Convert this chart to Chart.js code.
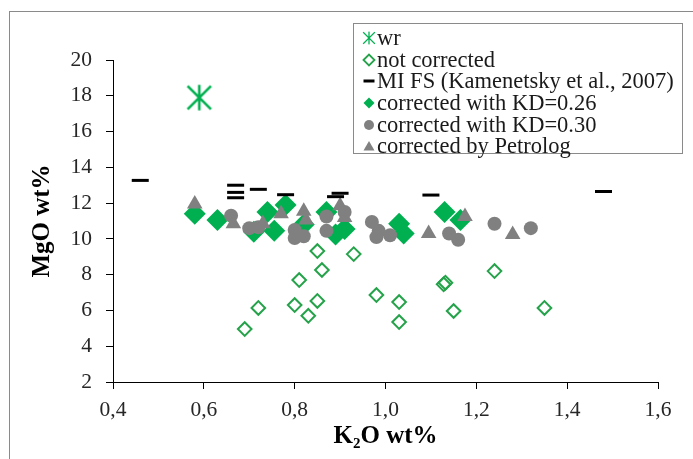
<!DOCTYPE html>
<html>
<head>
<meta charset="utf-8">
<script src="https://cdn.jsdelivr.net/npm/chart.js@4.4.1/dist/chart.umd.min.js"></script>
<style>
    html, body { margin: 0; padding: 0; background: #fff; overflow: hidden; }
    #wrap { position: relative; width: 693px; height: 459px; }
    #frame {
        position: absolute; left: 9px; top: 11px; width: 800px; height: 600px;
        border-left: 1px solid #8a8a8a; border-top: 1px solid #8a8a8a;
    }
    #chart { position: absolute; left: 0; top: 0; }
    #legend {
        position: absolute; left: 353px; top: 23px; width: 330px; height: 131px;
        border: 1px solid #8a8a8a; background: #fff;
        font-family: "Liberation Serif", "Times New Roman", serif; font-size: 22.5px; color: #1a1a1a;
        padding-top: 3px; box-sizing: border-box;
    }
    .row { height: 21.7px; line-height: 21.7px; white-space: nowrap; display: flex; align-items: center; }
    .row canvas { width: 16px; height: 16px; margin-left: 7px; margin-right: 0px; flex: none; }
</style>
</head>
<body>
<div id="wrap">
    <div id="frame"></div>
    <canvas id="chart" width="693" height="459"></canvas>
    <div id="legend"></div>
</div>
<script>
// --- Data ---
const xTicks = [0.4, 0.6, 0.8, 1.0, 1.2, 1.4, 1.6];
const xTickLabels = ['0,4', '0,6', '0,8', '1,0', '1,2', '1,4', '1,6'];
const yTicks = [2, 4, 6, 8, 10, 12, 14, 16, 18, 20];
const yTickLabels = ['2', '4', '6', '8', '10', '12', '14', '16', '18', '20'];

const wrK2O = [0.59];
const wrMgO = [17.9];

const notCorrK2O = [0.69, 0.72, 0.80, 0.81, 0.83, 0.85, 0.85, 0.86, 0.93, 0.98, 1.03, 1.03, 1.128, 1.132, 1.15, 1.24, 1.35];
const notCorrMgO = [4.96, 6.14, 6.30, 7.70, 5.70, 6.53, 9.32, 8.26, 9.15, 6.86, 5.35, 6.47, 7.46, 7.55, 5.97, 8.20, 6.14];

const miK2O = [0.46, 0.67, 0.67, 0.67, 0.72, 0.78, 0.89, 0.90, 1.10, 1.48];
const miMgO = [13.27, 13.0, 12.6, 12.3, 12.77, 12.47, 12.36, 12.55, 12.45, 12.65];

const kd26K2O = [0.58, 0.63, 0.71, 0.74, 0.755, 0.78, 0.82, 0.87, 0.89, 0.91, 1.03, 1.04, 1.13, 1.165];
const kd26MgO = [11.4, 11.05, 10.4, 11.5, 10.45, 11.9, 10.8, 11.5, 10.25, 10.55, 10.85, 10.3, 11.5, 11.05];

const kd30K2O = [0.66, 0.70, 0.72, 0.80, 0.80, 0.82, 0.87, 0.87, 0.91, 0.97, 0.98, 0.985, 1.01, 1.14, 1.16, 1.24, 1.32];
const kd30MgO = [11.3, 10.6, 10.65, 10.05, 10.5, 10.15, 11.25, 10.45, 11.5, 10.95, 10.1, 10.45, 10.2, 10.3, 9.95, 10.85, 10.6];

const petK2O = [0.58, 0.665, 0.73, 0.77, 0.82, 0.825, 0.90, 0.91, 1.095, 1.175, 1.28];
const petMgO = [11.95, 10.85, 10.85, 11.4, 11.55, 11.05, 11.85, 11.2, 10.3, 11.25, 10.25];

const seriesNames = ['wr', 'not corrected', 'MI FS (Kamenetsky et al., 2007)',
    'corrected with KD=0.26', 'corrected with KD=0.30', 'corrected by Petrolog'];

// --- Colours ---
const GREEN = '#00b050';
const GREEN_LINE = '#25a24a';
const GREY = '#808080';

function pairs(xs, ys) {
    return xs.map((x, i) => ({ x: x, y: ys[i] }));
}

// asterisk marker: an X plus a vertical bar
function makeAsterisk(size, lw) {
    const c = document.createElement('canvas');
    c.width = size; c.height = size;
    const g = c.getContext('2d');
    g.strokeStyle = GREEN;
    g.lineWidth = lw;
    const m = lw / 2;
    g.beginPath();
    g.moveTo(size / 2, m); g.lineTo(size / 2, size - m);
    g.moveTo(m + 1, m + 1); g.lineTo(size - m - 1, size - m - 1);
    g.moveTo(size - m - 1, m + 1); g.lineTo(m + 1, size - m - 1);
    g.stroke();
    return c;
}

const ctx = document.getElementById('chart').getContext('2d');

const chart = new Chart(ctx, {
    type: 'scatter',
    data: {
        datasets: [
            {
                label: seriesNames[0], data: pairs(wrK2O, wrMgO), order: 5,
                pointStyle: makeAsterisk(28, 2.6), pointRadius: 14
            },
            {
                label: seriesNames[1], data: pairs(notCorrK2O, notCorrMgO), order: 4,
                pointStyle: 'rectRot', pointRadius: 6.8, backgroundColor: 'rgba(0,0,0,0)',
                borderColor: GREEN_LINE, borderWidth: 2
            },
            {
                label: seriesNames[2], data: pairs(miK2O, miMgO), order: 0,
                pointStyle: 'line', pointRadius: 8.5, borderColor: '#000', borderWidth: 3
            },
            {
                label: seriesNames[3], data: pairs(kd26K2O, kd26MgO), order: 3,
                pointStyle: 'rectRot', pointRadius: 11, backgroundColor: GREEN,
                borderColor: GREEN, borderWidth: 0
            },
            {
                label: seriesNames[4], data: pairs(kd30K2O, kd30MgO), order: 2,
                pointStyle: 'circle', pointRadius: 7, backgroundColor: GREY,
                borderColor: GREY, borderWidth: 0
            },
            {
                label: seriesNames[5], data: pairs(petK2O, petMgO), order: 1,
                pointStyle: 'triangle', pointRadius: 9, backgroundColor: GREY,
                borderColor: GREY, borderWidth: 0
            }
        ]
    },
    options: {
        responsive: false,
        animation: false,
        events: [],
        layout: { padding: { left: 0, right: 35, top: 60, bottom: 0 } },
        plugins: { legend: { display: false }, tooltip: { enabled: false } },
        scales: {
            x: {
                type: 'linear', min: 0.4, max: 1.6,
                afterBuildTicks: (s) => { s.ticks = xTicks.map(v => ({ value: v })); },
                afterFit: (s) => { s.height = 77; },
                grid: { display: true, drawOnChartArea: false, drawTicks: true, tickLength: 7, color: '#000' },
                border: { display: true, color: '#000', width: 1 },
                ticks: {
                    padding: 8, color: '#262626',
                    font: { family: '"Liberation Serif", "Times New Roman", serif', size: 21.5 },
                    callback: (v, i) => xTickLabels[i]
                },
                title: {
                    display: true, text: 'K\u2082O wt%', color: '#000',
                    font: { family: '"Liberation Serif", "Times New Roman", serif', size: 25, weight: 'bold', lineHeight: 1 },
                    padding: { top: 0, bottom: 10 }
                }
            },
            y: {
                type: 'linear', min: 2, max: 20,
                afterBuildTicks: (s) => { s.ticks = yTicks.map(v => ({ value: v })); },
                afterFit: (s) => { s.width = 113; },
                grid: { display: true, drawOnChartArea: false, drawTicks: true, tickLength: 7, color: '#000' },
                border: { display: true, color: '#000', width: 1 },
                ticks: {
                    padding: 14, color: '#262626',
                    font: { family: '"Liberation Serif", "Times New Roman", serif', size: 21.5 },
                    callback: (v, i) => yTickLabels[i]
                },
                title: {
                    display: true, text: 'MgO wt%', color: '#000',
                    font: { family: '"Liberation Serif", "Times New Roman", serif', size: 25, weight: 'bold', lineHeight: 1 },
                    padding: { top: 30, bottom: 0 }
                }
            }
        }
    }
});

// --- HTML legend ---
function drawLegendIcon(c, ds) {
    const g = c.getContext('2d');
    c.width = 16; c.height = 16;
    const cx = 8, cy = 8;
    g.lineJoin = 'miter';
    if (ds.pointStyle instanceof HTMLCanvasElement) {
        g.drawImage(ds.pointStyle, 1, 1, 14, 14);
        return;
    }
    g.beginPath();
    if (ds.pointStyle === 'rectRot') {
        const r = 5.5;
        g.moveTo(cx - r, cy); g.lineTo(cx, cy - r); g.lineTo(cx + r, cy); g.lineTo(cx, cy + r);
        g.closePath();
    } else if (ds.pointStyle === 'circle') {
        g.arc(cx, cy, 5, 0, Math.PI * 2);
    } else if (ds.pointStyle === 'triangle') {
        g.moveTo(cx, cy - 5); g.lineTo(cx + 5.5, cy + 4.5); g.lineTo(cx - 5.5, cy + 4.5);
        g.closePath();
    } else if (ds.pointStyle === 'line') {
        g.moveTo(cx - 5.5, cy); g.lineTo(cx + 5.5, cy);
    }
    if (ds.pointStyle === 'line') {
        g.strokeStyle = ds.borderColor; g.lineWidth = 3; g.stroke();
    } else if (ds.backgroundColor === 'rgba(0,0,0,0)') {
        g.strokeStyle = ds.borderColor; g.lineWidth = 1.8; g.stroke();
    } else {
        g.fillStyle = ds.backgroundColor; g.fill();
    }
}

const legendEl = document.getElementById('legend');
chart.data.datasets.forEach((ds) => {
    const row = document.createElement('div');
    row.className = 'row';
    const icon = document.createElement('canvas');
    drawLegendIcon(icon, ds);
    const txt = document.createElement('span');
    txt.textContent = ds.label;
    row.appendChild(icon);
    row.appendChild(txt);
    legendEl.appendChild(row);
});
</script>
</body>
</html>
